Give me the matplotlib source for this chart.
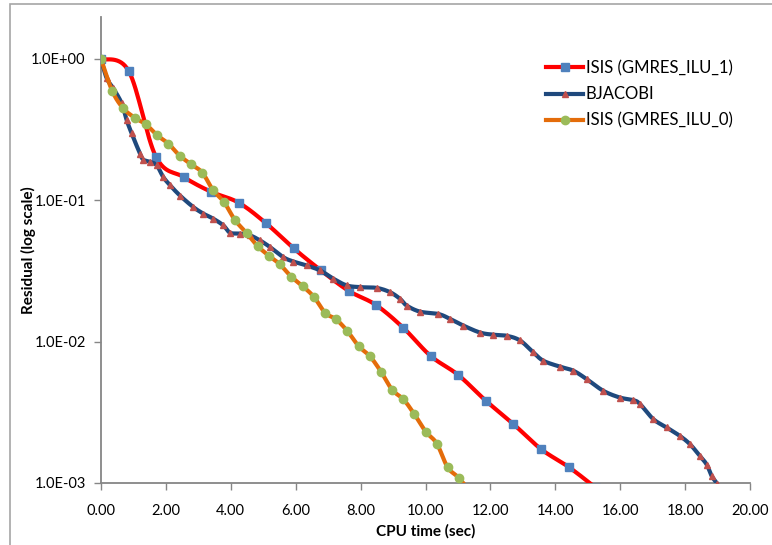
import numpy as np
import matplotlib
matplotlib.use("Agg")
import matplotlib.pyplot as plt
from matplotlib.lines import Line2D
from matplotlib.patches import Rectangle
from matplotlib.ticker import FixedLocator, FixedFormatter, NullLocator

plt.rcParams["font.family"] = ["Lato", "DejaVu Sans"]

# ISIS (GMRES_ILU_1)
ilu1_t = [0.0, 0.854, 1.695, 2.55, 3.39, 4.24, 5.09, 5.94, 6.78, 7.63, 8.47,
          9.32, 10.16, 11.01, 11.86, 12.71, 13.57, 14.41, 15.26]
ilu1_r = [1.0, 0.822, 0.203, 0.146, 0.115, 0.0963, 0.0687, 0.0457, 0.0319,
          0.0229, 0.0182, 0.0125, 0.00792, 0.00581, 0.00382, 0.00261,
          0.00173, 0.0013, 0.00092]

# BJACOBI
bj_t = [0.0, 0.176, 0.379, 0.638, 0.792, 0.946, 1.202, 1.304, 1.51, 1.716,
        1.92, 2.126, 2.435, 2.844, 3.153, 3.461, 3.769, 3.975, 4.284, 4.592,
        4.9, 5.208, 5.618, 5.926, 6.339, 6.749, 7.159, 7.572, 7.982, 8.496,
        8.906, 9.214, 9.421, 9.831, 10.394, 10.755, 11.165, 11.68, 12.089,
        12.502, 12.912, 13.322, 13.63, 14.145, 14.555, 14.968, 15.479,
        15.994, 16.404, 16.61, 17.02, 17.433, 17.843, 18.151, 18.459,
        18.666, 18.82, 18.99]
bj_r = [1.0, 0.73, 0.62, 0.485, 0.369, 0.297, 0.214, 0.194, 0.187, 0.177,
        0.146, 0.128, 0.108, 0.0896, 0.0805, 0.0741, 0.0665, 0.059, 0.0581,
        0.0565, 0.052, 0.0467, 0.0396, 0.0369, 0.0346, 0.0319, 0.0279, 0.025,
        0.0243, 0.024, 0.0224, 0.0201, 0.018, 0.0163, 0.0157, 0.0145, 0.013,
        0.0116, 0.0112, 0.011, 0.0102, 0.0084, 0.00733, 0.00665, 0.00623,
        0.00543, 0.00449, 0.00402, 0.00386, 0.00362, 0.00283, 0.00247,
        0.00215, 0.00188, 0.00155, 0.00135, 0.00112, 0.00099]

# ISIS (GMRES_ILU_0)
ilu0_t = [0.0, 0.348, 0.687, 1.048, 1.387, 1.735, 2.074, 2.425, 2.773, 3.122,
          3.451, 3.79, 4.129, 4.49, 4.829, 5.177, 5.516, 5.864, 6.216, 6.564,
          6.903, 7.242, 7.59, 7.945, 8.29, 8.629, 8.977, 9.316, 9.655, 10.006,
          10.348, 10.684, 11.042, 11.39]
ilu0_r = [1.0, 0.593, 0.447, 0.383, 0.344, 0.288, 0.252, 0.207, 0.18, 0.157,
          0.118, 0.0973, 0.0725, 0.0586, 0.0474, 0.0405, 0.0352, 0.0288,
          0.0247, 0.0207, 0.016, 0.0144, 0.0119, 0.00927, 0.00787, 0.00613,
          0.00455, 0.00392, 0.00307, 0.00231, 0.0019, 0.00129, 0.00108,
          0.00085]

x_ticks = [0, 2, 4, 6, 8, 10, 12, 14, 16, 18, 20]
y_ticks = [1e-3, 1e-2, 1e-1, 1e0]
y_labels = ["1.0E-03", "1.0E-02", "1.0E-01", "1.0E+00"]


def smooth(x, y, n=16):
    # Catmull-Rom spline in log space, like a smoothed Excel line
    x = np.asarray(x, float)
    ly = np.log10(np.asarray(y, float))
    px = np.concatenate([[x[0]], x, [x[-1]]])
    py = np.concatenate([[ly[0]], ly, [ly[-1]]])
    xs, ys = [], []
    s = np.linspace(0, 1, n, endpoint=False)
    for i in range(1, len(px) - 2):
        for arr, out in ((px, xs), (py, ys)):
            p0, p1, p2, p3 = arr[i - 1], arr[i], arr[i + 1], arr[i + 2]
            c1 = p1 + (p2 - p0) / 6
            c2 = p2 - (p3 - p1) / 6
            out.extend((1 - s) ** 3 * p1 + 3 * (1 - s) ** 2 * s * c1
                       + 3 * (1 - s) * s ** 2 * c2 + s ** 3 * p2)
    xs.append(x[-1])
    ys.append(ly[-1])
    return np.array(xs), 10 ** np.array(ys)


fig = plt.figure(figsize=(7.72, 5.45), dpi=100)
ax = fig.add_axes([101 / 772, 1 - 483 / 545, 649 / 772, 466 / 545])

# outer chart frame (only left and top edges fall inside the image)
fig.patches.append(Rectangle((10 / 772, -0.1), 1.1, 1.1 - 4 / 545,
                             transform=fig.transFigure, fill=False,
                             edgecolor="#a6a6a6", linewidth=1.2, zorder=0))

series = [
    (ilu1_t, ilu1_r, "#ff0000", "s", "#4f81bd", 6, "ISIS (GMRES_ILU_1)"),
    (bj_t, bj_r, "#1f497d", "^", "#c0504d", 4, "BJACOBI"),
    (ilu0_t, ilu0_r, "#e46c0a", "o", "#9bbb59", 6, "ISIS (GMRES_ILU_0)"),
]
handles = []
for k, (t, r, lc, mk, mc, ms, name) in enumerate(series):
    sx, sy = smooth(t, r)
    ax.plot(sx, sy, color=lc, lw=3, solid_capstyle="round", zorder=3 + 2 * k)
    ax.plot(t, r, ls="none", marker=mk, ms=ms, mfc=mc, mec=mc, zorder=4 + 2 * k)
    handles.append(Line2D([], [], color=lc, lw=3, marker=mk, ms=ms,
                          mfc=mc, mec=mc, label=name))

ax.set_yscale("log")
ax.set_xlim(0, 20)
ax.set_ylim(1e-3, 10 ** 0.297)
ax.xaxis.set_major_locator(FixedLocator(x_ticks))
ax.set_xticklabels(["%.2f" % v for v in x_ticks])
ax.yaxis.set_major_locator(FixedLocator(y_ticks))
ax.yaxis.set_major_formatter(FixedFormatter(y_labels))
ax.yaxis.set_minor_locator(NullLocator())

for side in ("top", "right"):
    ax.spines[side].set_visible(False)
for side in ("left", "bottom"):
    ax.spines[side].set_color("#868686")
    ax.spines[side].set_linewidth(1.3)
ax.tick_params(axis="both", direction="out", length=5, width=1,
               color="#868686", labelsize=10.5, labelcolor="black", pad=6)
ax.tick_params(axis="x", pad=10)

ax.set_xlabel("CPU time (sec)", fontsize=11, fontweight="bold")
ax.set_ylabel("Residual (log scale)", fontsize=11, fontweight="bold")
ax.xaxis.set_label_coords(0.5, -0.088)
ax.yaxis.set_label_coords(-0.1, 0.5)

ax.legend(handles=handles, loc="upper left", bbox_to_anchor=(0.676, 0.922),
          frameon=False, fontsize=12, handlelength=2.2, handletextpad=0.15,
          labelspacing=0.62, borderaxespad=0)

fig.savefig("out.png", dpi=100)
